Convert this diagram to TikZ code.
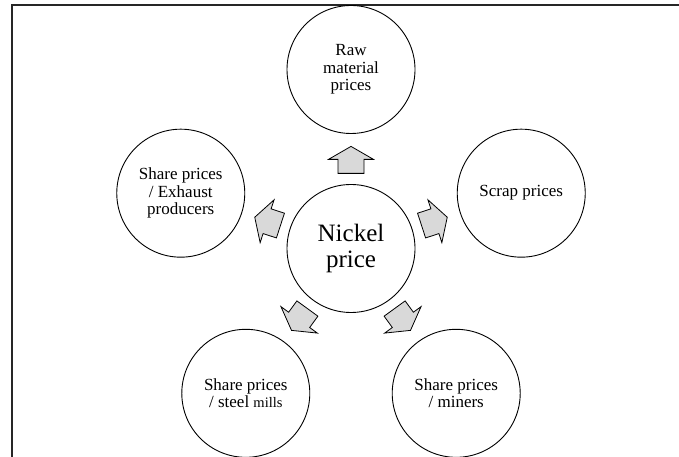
\documentclass[tikz,border=0pt]{standalone}
\usepackage{fontspec}
\setmainfont{Liberation Serif}
\usetikzlibrary{calc}

\tikzset{
  x=1pt, y=1pt,
  frameline/.style={line width=1.2pt, draw=black!85},
  bubble/.style={circle, draw=black, line width=0.9pt, minimum size=128pt,
    inner sep=0pt, align=center, font=\fontsize{17}{17.5}\selectfont},
  bigbubble/.style={bubble, font=\fontsize{25}{26.5}\selectfont},
  arrowfill/.style={draw=black, line width=0.8pt, fill=black!15, line join=miter},
  blockarrow/.pic={
    \draw[arrowfill] (-13.5,-13) -- (0.5,-13) -- (0.5,-22.5) -- (13.5,0)
      -- (0.5,22.5) -- (0.5,13) -- (-13.5,13) -- cycle;
  }
}

\begin{document}
\begin{tikzpicture}
  \useasboundingbox (0,0) rectangle (679,457);

  % open frame: top and left edges only
  \draw[frameline] (679,452) -- (12,452) -- (12,0);

  % central circle
  \node[bigbubble] (nickel) at (351,208.5) {Nickel\\price};

  % surrounding circles on a pentagon
  \node[bubble] (raw)     at ($(nickel)+(90:179)$)   {Raw\\material\\prices};
  \node[bubble] (scrap)   at ($(nickel)+(18:179)$)   {Scrap prices};
  \node[bubble] (exhaust) at ($(nickel)+(162:179)$)  {Share prices\\/ Exhaust\\producers};
  \node[bubble] (miners)  at ($(nickel)+(-54:179)$)  {Share prices\\/ miners};
  \node[bubble] (steel)   at ($(nickel)+(-126:179)$)
    {Share prices\\/ steel {\fontsize{14.5}{17.5}\selectfont mills}};

  % block arrows pointing outwards
  \pic[rotate=90]   at ($(nickel)!0.495!(raw)$)     {blockarrow};
  \pic[rotate=18]   at ($(nickel)!0.49!(scrap)$)    {blockarrow};
  \pic[rotate=162]  at ($(nickel)!0.49!(exhaust)$)  {blockarrow};
  \pic[rotate=-54]  at ($(nickel)!0.49!(miners)$)   {blockarrow};
  \pic[rotate=-126] at ($(nickel)!0.49!(steel)$)    {blockarrow};
\end{tikzpicture}
\end{document}
